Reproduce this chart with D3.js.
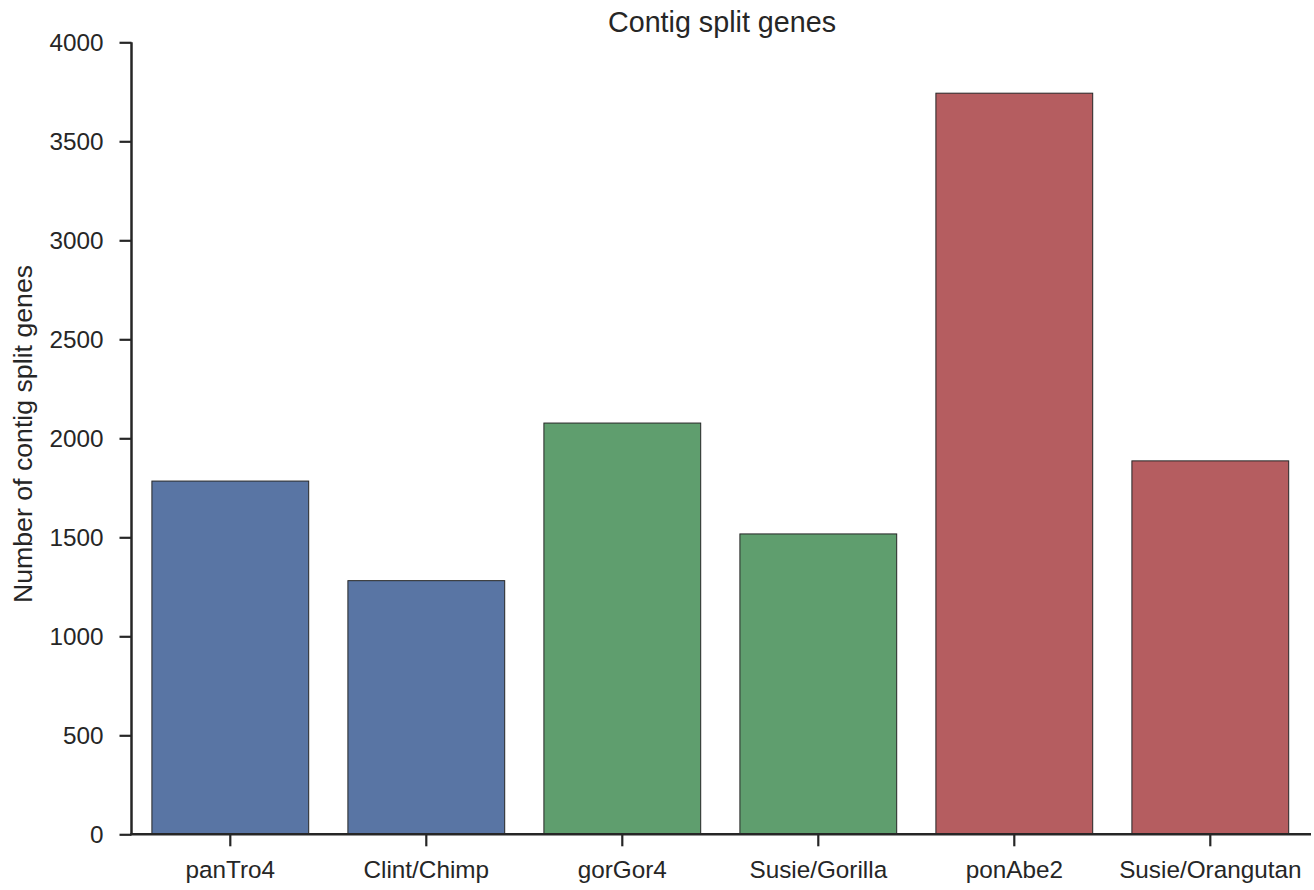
<!DOCTYPE html>
<html>
<head>
<meta charset="utf-8">
<script src="https://cdn.jsdelivr.net/npm/d3@7"></script>
<style>
  body { margin: 0; background: #fff; }
  svg { display: block; }
  text { font-family: "Liberation Sans", Arial, sans-serif; fill: #262626; }
</style>
</head>
<body>
<svg id="chart" width="1314" height="890"></svg>
<script>
const categories = ["panTro4", "Clint/Chimp", "gorGor4", "Susie/Gorilla", "ponAbe2", "Susie/Orangutan"];
const values = [1784, 1281, 2077, 1517, 3743, 1886];
const colors = ["#5975a4", "#5975a4", "#5f9e6e", "#5f9e6e", "#b55d60", "#b55d60"];
const yTicks = [0, 500, 1000, 1500, 2000, 2500, 3000, 3500, 4000];
const title = "Contig split genes";
const yLabel = "Number of contig split genes";

(function () {
const svg = d3.select("#chart");
const mLeft = 132.3, mRight = 1308.3, mTop = 42.3, mBottom = 834.3;

const x = d3.scaleBand().domain(categories).range([mLeft, mRight]).paddingInner(0.2).paddingOuter(0.1);
const y = d3.scaleLinear().domain([0, 4000]).range([mBottom, mTop]);

// bars
svg.append("g").selectAll("rect").data(categories).join("rect")
  .attr("x", d => x(d))
  .attr("y", (d, i) => y(values[i]))
  .attr("width", x.bandwidth())
  .attr("height", (d, i) => y(0) - y(values[i]))
  .attr("fill", (d, i) => colors[i])
  .attr("stroke", "#262626")
  .attr("stroke-width", 1);

// y axis
const yAxis = svg.append("g").attr("transform", `translate(${mLeft - 0.8},0)`)
  .call(d3.axisLeft(y).tickValues(yTicks).tickSize(12).tickPadding(16).tickFormat(d3.format("d")));
yAxis.select(".domain").attr("d", `M0,${mTop}V${mBottom}`);

// x axis
const xAxis = svg.append("g").attr("transform", `translate(0,${mBottom})`)
  .call(d3.axisBottom(x).tickSize(12).tickPadding(14));
xAxis.select(".domain").attr("d", `M${mLeft - 2},0H1311`);

svg.selectAll(".domain").attr("stroke", "#262626").attr("stroke-width", 2.5);
svg.selectAll(".tick line").attr("stroke", "#262626").attr("stroke-width", 2.2);
svg.selectAll(".tick text").style("font-size", "24.3px").attr("fill", "#262626")
  .style("font-family", '"Liberation Sans", Arial, sans-serif');

// title
svg.append("text").attr("x", 722).attr("y", 32)
  .attr("text-anchor", "middle").style("font-size", "28.7px").text(title);

// y label
svg.append("text").attr("transform", `translate(31.5,434) rotate(-90)`)
  .attr("text-anchor", "middle").style("font-size", "26.7px").text(yLabel);
})();
</script>
</body>
</html>
